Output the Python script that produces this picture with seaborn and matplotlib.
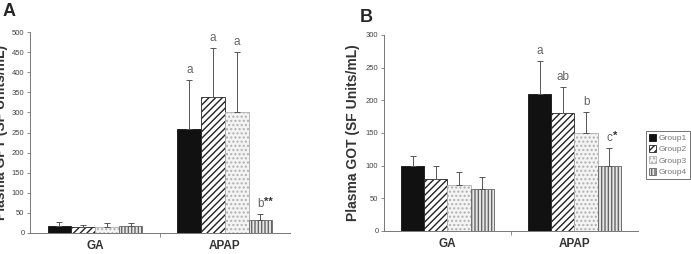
import numpy as np
import pandas as pd
import matplotlib
matplotlib.use("Agg")
import matplotlib.pyplot as plt
import seaborn as sns
from matplotlib.patches import Patch
from matplotlib.container import BarContainer

# --- data ---
treatments = ["GA", "APAP"]
groups = ["Group1", "Group2", "Group3", "Group4"]

gpt_ga = [18, 15, 16, 17]
gpt_apap = [258, 338, 300, 32]
gpt_ga_err = [10, 5, 9, 7]
gpt_apap_err = [122, 122, 150, 15]
gpt_ga_marks = ["", "", "", ""]
gpt_apap_marks = ["a", "a", "a", "b**"]

got_ga = [100, 79, 71, 64]
got_apap = [210, 180, 150, 100]
got_ga_err = [15, 21, 20, 19]
got_apap_err = [50, 40, 32, 27]
got_ga_marks = ["", "", "", ""]
got_apap_marks = ["a", "ab", "b", "c*"]

sns.set_style("white")
plt.rcParams['font.family'] = ['Liberation Sans', 'DejaVu Sans']

face = ["#111111", "white", "#f4f4f4", "#e6e6e6"]
hatches = [None, "/////", "....", "|||||"]
hatch_col = ["#111111", "#222222", "#b0b0b0", "#666666"]


def make_df(ga, apap):
    rows = []
    for t, vals in zip(treatments, [ga, apap]):
        for g, v in zip(groups, vals):
            rows.append({"Treatment": t, "Group": g, "Value": v})
    return pd.DataFrame(rows)


def draw_panel(ax, ga, apap, ga_err, apap_err, ga_marks, apap_marks, ymax, step, letter_pad):
    df = make_df(ga, apap)
    sns.barplot(data=df, x="Treatment", y="Value", hue="Group", order=treatments,
                hue_order=groups, palette=face, width=0.73, errorbar=None,
                edgecolor="#333333", linewidth=0.6, ax=ax, legend=False)
    errs = [ga_err, apap_err]
    marks = [ga_marks, apap_marks]
    bar_conts = [c for c in ax.containers if isinstance(c, BarContainer)]
    for gi, cont in enumerate(bar_conts):
        for ti, bar in enumerate(cont.patches):
            bar.set_hatch(hatches[gi])
            bar.set_edgecolor(hatch_col[gi])
            bar.set_linewidth(0.6)
            x = bar.get_x() + bar.get_width() / 2
            h = bar.get_height()
            e = errs[ti][gi]
            ax.errorbar(x, h, yerr=[[0], [e]], fmt="none", ecolor="#555555",
                        elinewidth=0.7, capsize=2.5, capthick=0.7)
            m = marks[ti][gi]
            if m:
                base = m.rstrip("*")
                stars = m[len(base):]
                ax.text(x, h + e + letter_pad, base, ha="center", va="bottom",
                        fontsize=8.5, color="#666666")
                if stars:
                    ax.text(x + 0.03, h + e + letter_pad * 1.8, stars, ha="left",
                            va="bottom", fontsize=8, color="#333333", fontweight="bold")
    ax.set_xlim(-0.5, 1.5)
    ax.set_ylim(0, ymax)
    ax.set_yticks(np.arange(0, ymax + 1, step))
    ax.tick_params(axis="y", labelsize=5.5, labelcolor="#444444", length=2,
                   width=0.6, color="#777777", left=True, pad=2)
    ax.tick_params(axis="x", length=0, labelsize=8.5, pad=5)
    ax.set_xticks([0.5], minor=True)
    ax.tick_params(axis="x", which="minor", length=3, width=0.6, color="#777777", bottom=True)
    for lab in ax.get_xticklabels():
        lab.set_fontweight("bold")
        lab.set_color("#333333")
    ax.set_xlabel("")
    sns.despine(ax=ax)
    for s in ["left", "bottom"]:
        ax.spines[s].set_color("#777777")
        ax.spines[s].set_linewidth(0.7)


fig = plt.figure(figsize=(6.91, 2.54), dpi=100)
ax1 = fig.add_axes([0.0434, 0.0827, 0.376, 0.791])
ax2 = fig.add_axes([0.5557, 0.0906, 0.3676, 0.772])

draw_panel(ax1, gpt_ga, gpt_apap, gpt_ga_err, gpt_apap_err, gpt_ga_marks, gpt_apap_marks,
           500, 50, 10)
draw_panel(ax2, got_ga, got_apap, got_ga_err, got_apap_err, got_ga_marks, got_apap_marks,
           300, 50, 6)

ax1.set_ylabel("Plasma GPT (SF Units/mL)", fontsize=10, fontweight="bold", color="#333333")
ax1.yaxis.set_label_coords(-0.085, 0.5)
ax2.set_ylabel("Plasma GOT (SF Units/mL)", fontsize=10, fontweight="bold", color="#333333",
               labelpad=4)

fig.text(0.003, 0.99, "A", fontsize=13, fontweight="bold", va="top", ha="left")
fig.text(0.521, 0.965, "B", fontsize=13, fontweight="bold", va="top", ha="left")

# legend for panel B
handles = [Patch(facecolor=face[i], edgecolor=hatch_col[i], hatch=hatches[i],
                 linewidth=0.6, label=groups[i]) for i in range(4)]
leg = ax2.legend(handles=handles, loc="upper left", bbox_to_anchor=(1.03, 0.51),
                 fontsize=6, frameon=True, fancybox=False, handlelength=0.9,
                 handleheight=0.9, handletextpad=0.3, borderpad=0.35, labelspacing=0.35,
                 borderaxespad=0)
leg.get_frame().set_edgecolor("#333333")
leg.get_frame().set_linewidth(0.6)
for t in leg.get_texts():
    t.set_color("#777777")

fig.savefig("out.png", dpi=100)
